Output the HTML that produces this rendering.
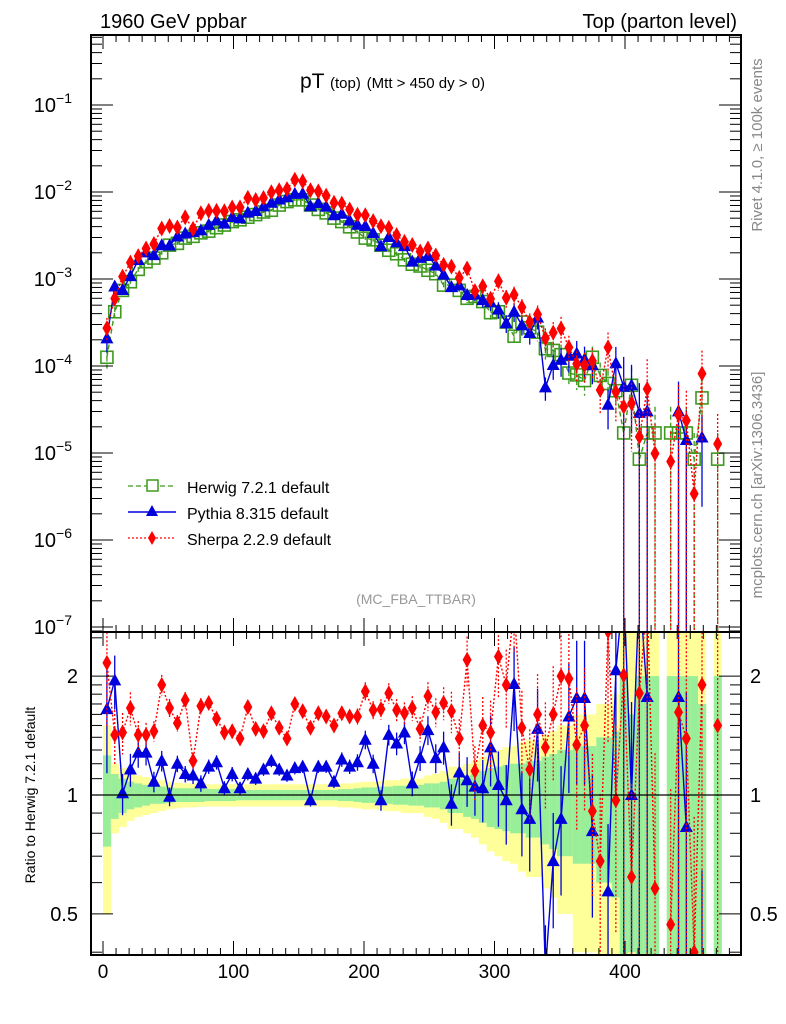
<!DOCTYPE html>
<html><head><meta charset="utf-8">
<style>
html,body{margin:0;padding:0;background:#fff;width:786px;height:1024px;overflow:hidden;}
svg{display:block;font-family:"Liberation Sans",sans-serif;}
</style></head>
<body>
<svg id="chart" width="786" height="1024" viewBox="0 0 786 1024" xmlns="http://www.w3.org/2000/svg">
<defs>
<clipPath id="clipMain"><rect x="91" y="35" width="650" height="597"/></clipPath>
<clipPath id="clipRatio"><rect x="91" y="632" width="650" height="323"/></clipPath>
</defs>
<text x="100" y="28" font-size="20">1960 GeV ppbar</text>
<text x="737" y="28" font-size="20" text-anchor="end">Top (parton level)</text>
<text x="300" y="88" font-size="21">pT <tspan font-size="15">(top)</tspan> <tspan font-size="15">(Mtt &gt; 450 dy &gt; 0)</tspan></text>
<text transform="translate(762,145) rotate(-90)" font-size="15" fill="#888" text-anchor="middle">Rivet 4.1.0, ≥ 100k events</text>
<text transform="translate(762,485) rotate(-90)" font-size="15" fill="#888" text-anchor="middle">mcplots.cern.ch [arXiv:1306.3436]</text>
<text x="416" y="604" font-size="14" fill="#999" text-anchor="middle">(MC_FBA_TTBAR)</text>
<text transform="translate(35,795) rotate(-90)" font-size="14" text-anchor="middle">Ratio to Herwig 7.2.1 default</text>
<g id="bands" clip-path="url(#clipRatio)"></g>
<g id="marksMain" clip-path="url(#clipMain)"></g>
<g id="marksRatio" clip-path="url(#clipRatio)"></g>
<g id="axes"></g>
<g id="legend">
  <line x1="128" y1="486" x2="176" y2="486" stroke="#3d9a1e" stroke-width="1.2" stroke-dasharray="5,3"/>
  <rect x="147" y="480" width="11" height="11" fill="#fff" stroke="#3d9a1e" stroke-width="1.5"/>
  <text x="187" y="493" font-size="16">Herwig 7.2.1 default</text>
  <line x1="128" y1="512" x2="176" y2="512" stroke="#0000dd" stroke-width="1.5"/>
  <polygon points="152,505 146,516 158,516" fill="#0000dd"/>
  <text x="187" y="519" font-size="16">Pythia 8.315 default</text>
  <line x1="128" y1="538" x2="176" y2="538" stroke="#f00" stroke-width="1.2" stroke-dasharray="2,2"/>
  <polygon points="152,531 156,538 152,545 148,538" fill="#f00"/>
  <text x="187" y="545" font-size="16">Sherpa 2.2.9 default</text>
</g>
</svg>
<script>
const binCenters = [];
for (let i = 0; i < 80; i++) binCenters.push(3 + 6 * i);
const binHalfWidth = 3;
const herwig = [1.26e-4,4.2e-4,7.4e-4,9.3e-4,1.29e-3,1.58e-3,1.74e-3,2.0e-3,2.45e-3,2.57e-3,
2.95e-3,3.09e-3,3.39e-3,3.55e-3,3.89e-3,4.17e-3,4.57e-3,4.79e-3,5.13e-3,5.50e-3,
5.89e-3,6.17e-3,7.08e-3,7.76e-3,8.13e-3,8.13e-3,7.08e-3,6.31e-3,5.75e-3,5.01e-3,
4.57e-3,3.98e-3,3.47e-3,2.95e-3,2.82e-3,2.45e-3,2.14e-3,1.95e-3,1.66e-3,1.48e-3,
1.41e-3,1.26e-3,1.15e-3,8.5e-4,8.5e-4,7.4e-4,6.0e-4,6.3e-4,5.5e-4,4.1e-4,
4.2e-4,3.2e-4,2.2e-4,3.2e-4,2.75e-4,2.45e-4,1.58e-4,1.51e-4,1.35e-4,8.3e-5,
7.9e-5,6.8e-5,1.26e-4,7.8e-5,6.3e-5,5.2e-5,1.7e-5,6.0e-5,8.5e-6,1.7e-5,
1.7e-5,null,1.7e-5,1.7e-5,1.7e-5,8.5e-6,4.3e-5,null,8.5e-6,null];
const pythiaRatio = [1.65,1.95,1.01,1.16,1.28,1.28,1.08,1.22,0.99,1.20,
1.13,1.12,1.07,1.18,1.21,1.04,1.13,1.04,1.13,1.10,
1.16,1.22,1.16,1.12,1.17,1.18,0.97,1.18,1.18,1.08,
1.23,1.18,1.21,1.38,1.20,0.97,1.42,1.35,1.44,1.07,
1.24,1.46,1.24,1.32,0.95,1.14,1.09,1.05,1.04,1.32,
1.06,0.97,1.91,0.92,0.87,1.47,0.36,0.68,0.87,1.58,
1.76,1.76,0.81,null,0.57,2.07,3.4,1.0,3.4,1.77,
null,null,null,1.77,0.83,null,0.35,null,null,null];
const sherpaRatio = [2.16,1.42,1.44,1.66,1.42,1.42,1.45,1.90,1.66,1.52,
1.74,1.22,1.68,1.71,1.56,1.44,1.45,1.39,1.67,1.47,
1.45,1.61,1.48,1.39,1.70,1.63,1.48,1.61,1.58,1.50,
1.61,1.58,1.58,1.83,1.64,1.65,1.81,1.64,1.61,1.66,
1.47,1.78,1.62,1.71,1.63,1.39,2.20,1.15,1.50,1.44,
2.24,1.90,3.0,1.48,1.16,1.60,1.32,1.60,2.00,1.97,
1.34,1.50,0.91,0.68,2.6,0.97,2.01,0.62,1.81,3.2,
0.58,null,0.47,1.62,1.39,0.40,1.9,null,1.50,null];
const statErr = [.26,.13,.10,.08,.07,.06,.05,.05,.045,.04,.04,.04,.04,.035,.035,.035,.035,.03,.03,.03,
.03,.03,.03,.03,.03,.03,.03,.03,.03,.03,.035,.035,.04,.045,.045,.05,.05,.055,.055,.06,
.06,.07,.07,.08,.1,.1,.12,.13,.15,.17,.18,.19,.2,.2,.22,.22,.25,.27,.3,.3,
.33,.33,.33,.4,.4,.45,1,.6,1,1,1,null,1,1,1,1,.7,null,1,null];
const totErr = [.5,.2,.17,.14,.12,.11,.1,.09,.08,.075,.07,.07,.065,.065,.065,.065,.065,.065,.065,.065,
.065,.065,.065,.065,.065,.065,.065,.065,.065,.065,.07,.07,.075,.08,.08,.085,.09,.09,.1,.1,
.1,.12,.13,.15,.18,.18,.2,.22,.25,.28,.3,.32,.33,.36,.38,.38,.42,.45,.5,.5,
.6,.6,.6,.7,.7,.8,1.8,1.8,1.8,1.8,1.8,null,1.8,1.8,1.8,1.8,1.8,null,1.8,null];
const xTicks = [0,100,200,300,400];
const yDecades = [-1,-2,-3,-4,-5,-6,-7];
const ratioTicks = [0.5,1,2];

const NS = "http://www.w3.org/2000/svg";
const X = v => 103 + 1.305 * v;
const Y = v => 105 + (-1 - Math.log10(v)) * 87;
const YR = r => 795 - 395 * Math.log10(r);
function mk(tag, attrs, parent) {
  const e = document.createElementNS(NS, tag);
  for (const k in attrs) e.setAttribute(k, attrs[k]);
  parent.appendChild(e);
  return e;
}
const bands = document.getElementById('bands');
const gm = document.getElementById('marksMain');
const gr = document.getElementById('marksRatio');
const ax = document.getElementById('axes');

binCenters.forEach((c, i) => {
  if (totErr[i] == null) return;
  const x0 = X(c - binHalfWidth), x1 = X(c + binHalfWidth);
  const ty = YR(1 + totErr[i]), by = 1 - totErr[i] > 0.01 ? YR(1 - totErr[i]) : 960;
  const r1 = mk('rect', {x: x0, y: ty, width: x1 - x0 + 0.3, height: by - ty, fill: '#ffff99'}, bands);
  
  
  const gty = YR(1 + statErr[i]), gby = 1 - statErr[i] > 0.01 ? YR(1 - statErr[i]) : 960;
  const r2 = mk('rect', {x: x0, y: gty, width: x1 - x0 + 0.3, height: gby - gty, fill: '#99ee99'}, bands);
  
  
});

function series(values, ratios, color, dash, marker, name) {
  const mainPts = [], ratPts = [];
  binCenters.forEach((c, i) => {
    const h = herwig[i];
    let v = null, r = null;
    if (ratios === null) { v = h; r = h == null ? null : 1; }
    else if (h != null && ratios[i] != null) { r = ratios[i]; v = h * r; }
    const e = (statErr[i] || 0.5) * (ratios ? 1.2 : 1);
    if (v != null) {
      mainPts.push([X(c), Y(v)]);
      const lo = 1 - e > 0.01 ? Y(v * (1 - e)) : 640;
      const eb = mk('line', {x1: X(c), x2: X(c), y1: Y(v * (1 + e)), y2: lo, stroke: color, 'stroke-width': 1.3, 'stroke-dasharray': dash}, gm);
      
      
    } else mainPts.push(null);
    if (r != null && ratios) {
      ratPts.push([X(c), YR(r)]);
      const lo = 1 - e > 0.01 ? YR(r * (1 - e)) : 960;
      const eb = mk('line', {x1: X(c), x2: X(c), y1: YR(r * (1 + e)), y2: lo, stroke: color, 'stroke-width': 1.3, 'stroke-dasharray': dash}, gr);
      
      
    } else ratPts.push(null);
  });
  [[mainPts, gm], [ratios ? ratPts : [], gr]].forEach(([pts, g]) => {
    let d = '', pen = false;
    pts.forEach(p => { if (!p) { pen = false; return; } d += (pen ? 'L' : 'M') + p[0].toFixed(1) + ',' + p[1].toFixed(1); pen = true; });
    if (d) {
      const l = mk('path', {d: d, fill: 'none', stroke: color, 'stroke-width': 1.4, 'stroke-dasharray': dash}, g);
      
      
    }
    pts.forEach(p => {
      if (!p) return;
      let m;
      if (marker === 'square') m = mk('rect', {x: p[0] - 6, y: p[1] - 6, width: 12, height: 12, fill: 'none', stroke: color, 'stroke-width': 1.6}, g);
      else if (marker === 'tri') m = mk('polygon', {points: `${p[0]},${p[1]-7} ${p[0]-6.5},${p[1]+5} ${p[0]+6.5},${p[1]+5}`, fill: color}, g);
      else m = mk('polygon', {points: `${p[0]},${p[1]-8} ${p[0]+4.5},${p[1]} ${p[0]},${p[1]+8} ${p[0]-4.5},${p[1]}`, fill: color}, g);
      
      
    });
  });
}
series(herwig, null, '#3d9a1e', '5,3', 'square', 'herwig');
series(herwig, pythiaRatio, '#0000dd', 'none', 'tri', 'pythia');
series(herwig, sherpaRatio, '#ff0000', '2,2', 'dia', 'sherpa');

const rl = mk('line', {x1: 91, x2: 741, y1: YR(1), y2: YR(1), stroke: '#000', 'stroke-width': 1.3}, gr);



[[35, 597, 'main-frame'], [632, 323, 'ratio-frame']].forEach(([y, h, n]) => {
  const f = mk('rect', {x: 91, y: y, width: 650, height: h, fill: 'none', stroke: '#000', 'stroke-width': 2}, ax);
  
  
});
for (let v = 0; v <= 480; v += 10) {
  const major = v % 100 === 0, len = major ? 14 : 7;
  [[35, 1], [632, -1], [632, 1], [955, -1]].forEach(([y, s]) => {
    mk('line', {x1: X(v), x2: X(v), y1: y, y2: y + s * len, stroke: '#000', 'stroke-width': 1}, ax);
  });
}
xTicks.forEach(v => {
  const t = mk('text', {x: X(v), y: 978, 'font-size': 19, 'text-anchor': 'middle'}, ax);
  
  
  t.textContent = v;
});
for (let d = -8; d <= 0; d++) {
  for (let k = 1; k <= 9; k++) {
    const v = k * Math.pow(10, d);
    const y = Y(v);
    if (y < 36 || y > 631) continue;
    const len = k === 1 ? 22 : 11;
    mk('line', {x1: 91, x2: 91 + len, y1: y, y2: y, stroke: '#000', 'stroke-width': 1}, ax);
    mk('line', {x1: 741, x2: 741 - len, y1: y, y2: y, stroke: '#000', 'stroke-width': 1}, ax);
  }
}
yDecades.forEach(d => {
  const t = mk('text', {x: 72, y: Y(Math.pow(10, d)) + 7, 'font-size': 20, 'text-anchor': 'end'}, ax);
  
  
  t.innerHTML = '10<tspan dy="-9" font-size="14">\u2212' + (-d) + '</tspan>';
});
[0.4,0.5,0.6,0.7,0.8,0.9,1,1.1,1.2,1.3,1.4,1.5,1.6,1.7,1.8,1.9,2,2.5].forEach(r => {
  const len = ratioTicks.includes(r) ? 22 : 11;
  const y = YR(r);
  mk('line', {x1: 91, x2: 91 + len, y1: y, y2: y, stroke: '#000', 'stroke-width': 1}, ax);
  mk('line', {x1: 741, x2: 741 - len, y1: y, y2: y, stroke: '#000', 'stroke-width': 1}, ax);
});
ratioTicks.forEach(r => {
  const t = mk('text', {x: 78, y: YR(r) + 7, 'font-size': 20, 'text-anchor': 'end'}, ax);
  
  
  t.textContent = r;
  const t2 = mk('text', {x: 750, y: YR(r) + 7, 'font-size': 20}, ax);
  
  
  t2.textContent = r;
});
</script>
</body></html>
